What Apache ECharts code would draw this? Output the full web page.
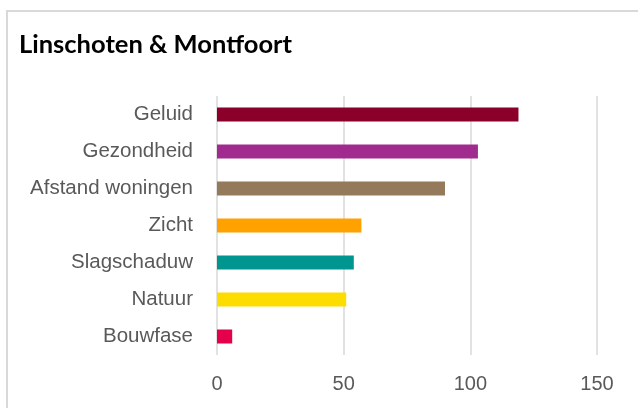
<!DOCTYPE html>
<html>
<head>
<meta charset="utf-8">
<script src="https://cdn.jsdelivr.net/npm/echarts@6/dist/echarts.min.js"></script>
<style>
  html, body { margin: 0; padding: 0; background: #fff; }
  #chart { width: 638px; height: 408px; }
</style>
</head>
<body>
<div id="chart"></div>
<script>
// topics, top to bottom
const categories = ['Geluid', 'Gezondheid', 'Afstand woningen', 'Zicht', 'Slagschaduw', 'Natuur', 'Bouwfase']
const counts = [119, 103, 90, 57, 54, 51, 6]
const barColors = ['#8a002b', '#a12a8f', '#947a5a', '#ffa200', '#00968f', '#fddc00', '#e4004b']
const xTicks = [0, 50, 100, 150]

const chart = echarts.init(document.getElementById('chart'))

chart.setOption({
  animation: false,
  title: {
    text: 'Linschoten & Montfoort',
    left: 14,
    top: 27,
    textStyle: {
      fontFamily: 'Lato',
      fontWeight: 'bold',
      fontSize: 25.5,
      color: '#000'
    }
  },
  // chart frame, cut off at right and bottom like the source
  graphic: [{
    type: 'rect',
    shape: { x: 7, y: 11, width: 700, height: 500 },
    style: { fill: 'none', stroke: '#d9d9d9', lineWidth: 2 },
    silent: true
  }],
  grid: {
    left: 217,
    right: 41,
    top: 96,
    bottom: 53
  },
  xAxis: {
    type: 'value',
    min: xTicks[0],
    max: xTicks[xTicks.length - 1],
    interval: 50,
    axisLine: { show: false },
    axisTick: { show: false },
    axisLabel: {
      margin: 19,
      fontFamily: 'Liberation Sans',
      fontSize: 20,
      color: '#595959'
    },
    splitLine: { lineStyle: { color: '#d9d9d9', width: 1.5 } }
  },
  yAxis: {
    type: 'category',
    data: categories,
    inverse: true,
    axisLine: { show: false },
    axisTick: { show: false },
    axisLabel: {
      margin: 24,
      fontFamily: 'Liberation Sans',
      fontSize: 20.5,
      color: '#595959'
    }
  },
  series: [{
    type: 'bar',
    barWidth: 14,
    data: counts.map((v, i) => ({ value: v, itemStyle: { color: barColors[i] } }))
  }]
})
</script>
</body>
</html>
